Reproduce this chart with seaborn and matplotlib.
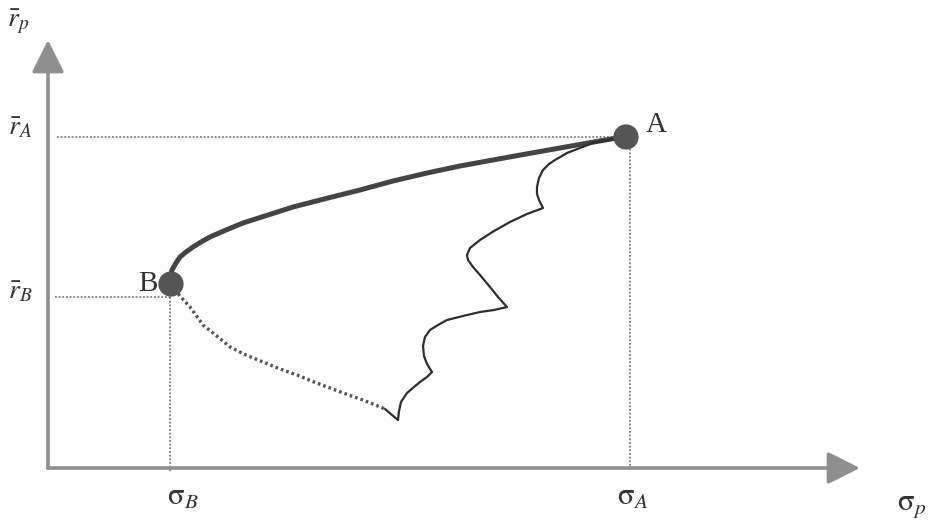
import matplotlib
matplotlib.use("Agg")
import matplotlib.pyplot as plt
import pandas as pd
import seaborn as sns

# diagram units: origin where the two axes meet
AXIS_X_END = 812
AXIS_Y_END = 428

SIGMA_A, R_A = 578, 331
SIGMA_B, R_B = 123, 184
R_B_GUIDE = 171
SIGMA_A_GUIDE = 582

# efficient frontier (thick, B -> A)
frontier_x = [123, 122, 124, 128, 132, 138, 145, 153, 162, 178, 195, 220, 245, 280, 312, 345, 379,
              412, 445, 478, 512, 540, 569, 578]
frontier_y = [184, 190, 198, 205, 211, 216, 221, 226, 231, 238, 245, 253, 261, 270, 278, 287, 295,
              302, 308, 314, 320, 325, 330, 331]

# lower dotted branch (B -> bottom)
lower_x = [123, 132, 142, 155, 170, 182, 198, 215, 232, 249, 266, 282, 298, 315, 325, 337]
lower_y = [183, 172, 161, 143, 131, 121, 113, 106, 99, 93, 86, 80, 74, 68, 64, 59]

# jagged portfolio boundary (bottom -> A)
jag_x = [337, 344, 350, 351, 353, 359, 366, 372, 379, 384, 379, 376, 375, 377, 382, 390, 399,
         415, 432, 446, 459, 450, 442, 432, 425, 420, 419, 422, 432, 446, 462, 479, 495,
         491, 489, 489, 491, 495, 501, 507, 519, 532, 545, 560, 577]
jag_y = [59, 53, 48, 57, 66, 75, 81, 86, 91, 96, 104, 112, 122, 131, 138, 143, 148,
         152, 156, 158, 161, 171, 181, 193, 201, 208, 213, 220, 228, 237, 246, 254, 260,
         268, 274, 281, 290, 298, 304, 308, 315, 320, 325, 328, 331]

points_x = [SIGMA_A, SIGMA_B]
points_y = [R_A, R_B]

sns.set_theme(style="white")
plt.rcParams["mathtext.fontset"] = "stix"
plt.rcParams["font.family"] = ["Liberation Serif", "DejaVu Serif"]

fig = plt.figure(figsize=(9.4, 5.22), dpi=100)
ax = fig.add_axes([0, 0, 1, 1])
ax.set_xlim(-48, 892)
ax.set_ylim(-54, 468)
ax.axis("off")

axis_color = "#8e8e8e"

# axes with arrows
arrow_kw = dict(arrowstyle="-|>,head_length=1.1,head_width=0.55", color=axis_color,
                lw=2.6, mutation_scale=18, shrinkA=0, shrinkB=0)
ax.annotate("", xy=(AXIS_X_END, 0), xytext=(0, 0), arrowprops=arrow_kw)
ax.annotate("", xy=(0, AXIS_Y_END), xytext=(0, 0), arrowprops=arrow_kw)

# guide lines
guide = dict(color="#666666", lw=1.1, ls=(0, (1.2, 1.2)))
ax.plot([9, SIGMA_A], [R_A, R_A], **guide)
ax.plot([7, SIGMA_B], [R_B_GUIDE, R_B_GUIDE], **guide)
ax.plot([SIGMA_B - 1, SIGMA_B - 1], [R_B_GUIDE, -4], **guide)
ax.plot([SIGMA_A_GUIDE, SIGMA_A_GUIDE], [R_A - 8, -2], **guide)

frontier = pd.DataFrame({"x": frontier_x, "y": frontier_y})
lower = pd.DataFrame({"x": lower_x, "y": lower_y})
jag = pd.DataFrame({"x": jag_x, "y": jag_y})

sns.lineplot(data=frontier, x="x", y="y", sort=False, estimator=None, ax=ax,
             color="#444444", lw=3.6, solid_capstyle="round")
sns.lineplot(data=lower, x="x", y="y", sort=False, estimator=None, ax=ax,
             color="#555555", lw=2.4, linestyle=(0, (0.8, 0.9)))
sns.lineplot(data=jag, x="x", y="y", sort=False, estimator=None, ax=ax,
             color="#2e2e2e", lw=1.6)
sns.scatterplot(x=points_x, y=points_y, ax=ax, s=330, color="#555555", edgecolor="none", zorder=5)

ax.text(SIGMA_A + 20, R_A + 12, "A", fontsize=21, color="#333333", ha="left", va="center")
ax.text(SIGMA_B - 13, R_B, "B", fontsize=21, color="#333333", ha="right", va="center")

lab = dict(color="#333333", ha="center", va="center")
ax.text(-30, 446, r"$\bar{r}_{p}$", fontsize=20, **lab)
ax.text(-28, 340, r"$\bar{r}_{A}$", fontsize=20, **lab)
ax.text(-28, 176, r"$\bar{r}_{B}$", fontsize=20, **lab)
ax.text(SIGMA_B + 12, -29, r"$\mathrm{\sigma}_{B}$", fontsize=22, **lab)
ax.text(SIGMA_A + 7, -29, r"$\mathrm{\sigma}_{A}$", fontsize=22, **lab)
ax.text(864, -38, r"$\mathrm{\sigma}_{p}$", fontsize=22, **lab)

fig.savefig("out.png", dpi=100)
